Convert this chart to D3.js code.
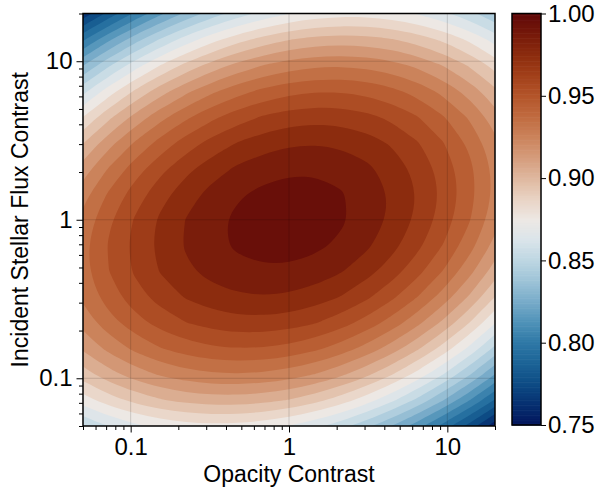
<!DOCTYPE html>
<html>
<head>
<meta charset="utf-8">
<script src="https://cdn.jsdelivr.net/npm/d3@7"></script>
<style>
  body { margin: 0; background: #fff; }
  text { font-family: "Liberation Sans", Arial, Helvetica, sans-serif; fill: #000; }
</style>
</head>
<body>
<svg id="chart" width="598" height="487"></svg>
<script>
// Grid nodes, log10 of each contrast
const logOpacity = [-1.4625, -1.3, -1.1375, -0.975, -0.8125, -0.65, -0.4875, -0.325, -0.1625, 0,
                    0.1625, 0.325, 0.4875, 0.65, 0.8125, 0.975, 1.1375, 1.3, 1.4625];
const logFlux    = [-1.4625, -1.3, -1.1375, -0.975, -0.8125, -0.65, -0.4875, -0.325, -0.1625, 0,
                    0.1625, 0.325, 0.4875, 0.65, 0.8125, 0.975, 1.1375, 1.3, 1.4625];

// Normalised ratio on the grid: one row per flux node (lowest flux first),
// one column per opacity node.
const ratioGrid = [
  [0.8129, 0.8233, 0.8318, 0.8383, 0.8429, 0.8455, 0.8462, 0.8449, 0.8416, 0.8364, 0.8291, 0.8196, 0.8078, 0.7938, 0.7775, 0.7590, 0.7382, 0.7152, 0.6899],
  [0.8402, 0.8513, 0.8605, 0.8677, 0.8730, 0.8763, 0.8776, 0.8770, 0.8744, 0.8699, 0.8633, 0.8545, 0.8433, 0.8300, 0.8144, 0.7966, 0.7765, 0.7542, 0.7296],
  [0.8636, 0.8754, 0.8852, 0.8931, 0.8991, 0.9031, 0.9051, 0.9052, 0.9033, 0.8995, 0.8935, 0.8854, 0.8750, 0.8623, 0.8474, 0.8302, 0.8108, 0.7892, 0.7653],
  [0.8830, 0.8955, 0.9060, 0.9146, 0.9213, 0.9259, 0.9286, 0.9294, 0.9282, 0.9251, 0.9198, 0.9124, 0.9026, 0.8907, 0.8764, 0.8600, 0.8413, 0.8203, 0.7971],
  [0.8985, 0.9117, 0.9229, 0.9322, 0.9395, 0.9449, 0.9483, 0.9497, 0.9492, 0.9468, 0.9422, 0.9354, 0.9264, 0.9151, 0.9015, 0.8858, 0.8677, 0.8475, 0.8250],
  [0.9101, 0.9239, 0.9358, 0.9458, 0.9538, 0.9598, 0.9639, 0.9661, 0.9662, 0.9645, 0.9606, 0.9545, 0.9461, 0.9355, 0.9227, 0.9076, 0.8903, 0.8707, 0.8489],
  [0.9177, 0.9322, 0.9448, 0.9555, 0.9641, 0.9709, 0.9757, 0.9785, 0.9794, 0.9783, 0.9751, 0.9697, 0.9620, 0.9521, 0.9399, 0.9255, 0.9089, 0.8900, 0.8688],
  [0.9213, 0.9366, 0.9499, 0.9612, 0.9706, 0.9780, 0.9834, 0.9870, 0.9885, 0.9881, 0.9856, 0.9809, 0.9739, 0.9647, 0.9532, 0.9395, 0.9235, 0.9053, 0.8849],
  [0.9211, 0.9370, 0.9510, 0.9630, 0.9730, 0.9811, 0.9873, 0.9915, 0.9937, 0.9940, 0.9922, 0.9882, 0.9819, 0.9733, 0.9625, 0.9495, 0.9342, 0.9167, 0.8969],
  [0.9169, 0.9335, 0.9481, 0.9608, 0.9716, 0.9804, 0.9872, 0.9921, 0.9950, 0.9960, 0.9949, 0.9915, 0.9859, 0.9780, 0.9679, 0.9556, 0.9410, 0.9242, 0.9051],
  [0.9087, 0.9260, 0.9414, 0.9547, 0.9662, 0.9757, 0.9832, 0.9887, 0.9924, 0.9940, 0.9936, 0.9909, 0.9860, 0.9788, 0.9694, 0.9577, 0.9438, 0.9277, 0.9093],
  [0.8966, 0.9146, 0.9306, 0.9447, 0.9568, 0.9670, 0.9752, 0.9815, 0.9858, 0.9881, 0.9884, 0.9864, 0.9821, 0.9757, 0.9669, 0.9560, 0.9427, 0.9273, 0.9096],
  [0.8806, 0.8993, 0.9160, 0.9307, 0.9435, 0.9544, 0.9633, 0.9702, 0.9752, 0.9783, 0.9792, 0.9779, 0.9744, 0.9686, 0.9605, 0.9502, 0.9377, 0.9229, 0.9059],
  [0.8606, 0.8800, 0.8974, 0.9128, 0.9263, 0.9379, 0.9474, 0.9551, 0.9608, 0.9645, 0.9661, 0.9655, 0.9626, 0.9575, 0.9502, 0.9406, 0.9287, 0.9146, 0.8983],
  [0.8367, 0.8568, 0.8748, 0.8910, 0.9052, 0.9174, 0.9277, 0.9360, 0.9423, 0.9468, 0.9491, 0.9491, 0.9470, 0.9425, 0.9359, 0.9269, 0.9158, 0.9024, 0.8867],
  [0.8089, 0.8296, 0.8484, 0.8652, 0.8801, 0.8930, 0.9039, 0.9129, 0.9200, 0.9251, 0.9281, 0.9288, 0.9273, 0.9236, 0.9176, 0.9094, 0.8989, 0.8862, 0.8713],
  [0.7771, 0.7985, 0.8180, 0.8355, 0.8510, 0.8646, 0.8763, 0.8860, 0.8937, 0.8995, 0.9032, 0.9046, 0.9038, 0.9007, 0.8954, 0.8879, 0.8781, 0.8661, 0.8518],
  [0.7414, 0.7635, 0.7836, 0.8018, 0.8180, 0.8323, 0.8447, 0.8550, 0.8635, 0.8699, 0.8743, 0.8764, 0.8763, 0.8739, 0.8693, 0.8625, 0.8534, 0.8420, 0.8285],
  [0.7017, 0.7245, 0.7453, 0.7642, 0.7811, 0.7961, 0.8091, 0.8202, 0.8293, 0.8364, 0.8415, 0.8443, 0.8449, 0.8432, 0.8393, 0.8331, 0.8247, 0.8140, 0.8011]
];

// Filled contour levels and tick values
const levels = d3.range(75, 101).map(d => d / 100);
const xTicks = [0.1, 1, 10];
const yTicks = [0.1, 1, 10];
const colorbarTicks = [0.75, 0.80, 0.85, 0.90, 0.95, 1.00];

// Diverging blue-white-red colour ramp for the ratio
const rampValues = [0.75, 0.7625, 0.775, 0.7875, 0.80, 0.8125, 0.825, 0.8375, 0.85, 0.8625, 0.875,
                    0.8875, 0.90, 0.9125, 0.925, 0.9375, 0.95, 0.9625, 0.975, 0.9875, 1.0];
const rampColors = ["#03155c", "#062f70", "#0d4b84", "#1b6396", "#2e78a6", "#4f92b8", "#78abc9",
                    "#9dc3d7", "#bdd6e2", "#dae4ea", "#ede8e4", "#e9d3c4", "#dfb89f", "#d59c7c",
                    "#cb835b", "#c06b40", "#b4552a", "#a2401a", "#8c2c0e", "#76190a", "#600808"];
const color = d3.scaleLinear().domain(rampValues).range(rampColors)
  .interpolate(d3.interpolateRgb).clamp(true);

const svg = d3.select("#chart");
const margin = { left: 83, right: 495, top: 13.5, bottom: 426 };

const x = d3.scaleLog().domain([0.05, 20]).range([margin.left, margin.right]);
const y = d3.scaleLog().domain([0.05, 20]).range([margin.bottom, margin.top]);

// Clip for the contour field
svg.append("defs").append("clipPath").attr("id", "plot-clip")
  .append("rect")
  .attr("x", margin.left).attr("y", margin.top)
  .attr("width", margin.right - margin.left).attr("height", margin.bottom - margin.top);

const field = svg.append("g").attr("clip-path", "url(#plot-clip)");

// Values below the lowest level
field.append("rect")
  .attr("x", margin.left).attr("y", margin.top)
  .attr("width", margin.right - margin.left).attr("height", margin.bottom - margin.top)
  .attr("fill", color(levels[0]));

const nx = logOpacity.length, ny = logFlux.length;
const stepX = logOpacity[1] - logOpacity[0];
const stepY = logFlux[1] - logFlux[0];
// contour coordinates put node k at k + 0.5
const gridX = g => x(Math.pow(10, logOpacity[0] + (g - 0.5) * stepX));
const gridY = g => y(Math.pow(10, logFlux[0] + (g - 0.5) * stepY));

const contourGen = d3.contours().size([nx, ny]).thresholds(levels.slice(0, -1));
const bands = contourGen(ratioGrid.flat());
const levelStep = levels[1] - levels[0];

const ringPath = d3.line()
  .x(p => gridX(p[0]))
  .y(p => gridY(p[1]))
  .curve(d3.curveBasisClosed);

bands.forEach(band => {
  let d = "";
  band.coordinates.forEach(poly => poly.forEach(ring => { d += ringPath(ring.slice(0, -1)); }));
  if (!d) return;
  field.append("path")
    .attr("d", d)
    .attr("fill-rule", "evenodd")
    .attr("fill", color(band.value + levelStep / 2));
});

// Grid lines
const gridG = svg.append("g").attr("clip-path", "url(#plot-clip)");
gridG.selectAll("line.gx").data(xTicks).join("line")
  .attr("x1", d => x(d)).attr("x2", d => x(d))
  .attr("y1", margin.top).attr("y2", margin.bottom)
  .attr("stroke", "rgba(0,0,0,0.15)").attr("stroke-width", 1);
gridG.selectAll("line.gy").data(yTicks).join("line")
  .attr("y1", d => y(d)).attr("y2", d => y(d))
  .attr("x1", margin.left).attr("x2", margin.right)
  .attr("stroke", "rgba(0,0,0,0.15)").attr("stroke-width", 1);

// Minor tick positions for each log decade
function minorTicks(scale) {
  const [lo, hi] = scale.domain();
  const out = [];
  for (let e = -2; e <= 2; e++) {
    for (let m = 2; m <= 9; m++) {
      const v = m * Math.pow(10, e);
      if (v >= lo && v <= hi) out.push(v);
    }
  }
  return out;
}

const fmt = d => (d < 1 ? d3.format(".1f")(d) : d3.format("d")(d));

function styleAxis(g) {
  g.select(".domain").remove();
  g.selectAll(".tick line").attr("stroke", "#000").attr("stroke-width", 1);
  g.selectAll(".tick text").attr("font-size", 24).attr("fill", "#000")
    .attr("font-family", "\"Liberation Sans\", Arial, sans-serif");
}

// x axis
svg.append("g").attr("transform", `translate(0,${margin.bottom})`)
  .call(d3.axisBottom(x).tickValues(minorTicks(x)).tickSize(4).tickFormat(""))
  .call(styleAxis);
svg.append("g").attr("transform", `translate(0,${margin.bottom})`)
  .call(d3.axisBottom(x).tickValues(xTicks).tickSize(6.5).tickPadding(5).tickFormat(fmt))
  .call(styleAxis);

// y axis
svg.append("g").attr("transform", `translate(${margin.left},0)`)
  .call(d3.axisLeft(y).tickValues(minorTicks(y)).tickSize(4).tickFormat(""))
  .call(styleAxis);
svg.append("g").attr("transform", `translate(${margin.left},0)`)
  .call(d3.axisLeft(y).tickValues(yTicks).tickSize(6.5).tickPadding(4).tickFormat(fmt))
  .call(styleAxis);

// Plot frame
svg.append("rect")
  .attr("x", margin.left).attr("y", margin.top)
  .attr("width", margin.right - margin.left).attr("height", margin.bottom - margin.top)
  .attr("fill", "none").attr("stroke", "#000").attr("stroke-width", 1.5);

// Axis titles
svg.append("text")
  .attr("x", (margin.left + margin.right) / 2).attr("y", 482)
  .attr("text-anchor", "middle").attr("font-size", 23)
  .text("Opacity Contrast");
svg.append("text")
  .attr("transform", `translate(28,${(margin.top + margin.bottom) / 2}) rotate(-90)`)
  .attr("text-anchor", "middle").attr("font-size", 23)
  .text("Incident Stellar Flux Contrast");

// Colour bar
const cb = { left: 512, right: 541, top: 13.5, bottom: 425 };
const cy = d3.scaleLinear().domain([0.75, 1.0]).range([cb.bottom, cb.top]);
const barSlices = d3.range(0, 250).map(k => 0.75 + k * 0.001);
svg.append("g").selectAll("rect").data(barSlices).join("rect")
  .attr("x", cb.left).attr("width", cb.right - cb.left)
  .attr("y", d => cy(d + 0.001))
  .attr("height", d => cy(d) - cy(d + 0.001) + 0.6)
  .attr("fill", d => color(d + 0.0005));
svg.append("rect")
  .attr("x", cb.left).attr("y", cb.top)
  .attr("width", cb.right - cb.left).attr("height", cb.bottom - cb.top)
  .attr("fill", "none").attr("stroke", "#000").attr("stroke-width", 1.5);
svg.append("g").attr("transform", `translate(${cb.right},0)`)
  .call(d3.axisRight(cy).tickValues(colorbarTicks).tickSize(5).tickPadding(2).tickFormat(d3.format(".2f")))
  .call(styleAxis);
</script>
</body>
</html>
